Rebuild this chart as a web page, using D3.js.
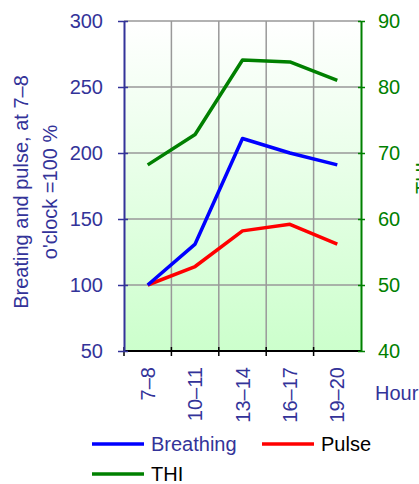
<!DOCTYPE html>
<html lang="en">
<head>
<meta charset="UTF-8">
<title>Breathing, pulse and THI</title>
<script src="https://d3js.org/d3.v7.min.js"></script>
<style>
  body { margin: 0; background: #fff; }
  text { font-family: "Liberation Sans", Arial, sans-serif; }
</style>
</head>
<body>
<svg id="chart" width="419" height="484"></svg>
<script>
// data
var hours = ["7–8", "10–11", "13–14", "16–17", "19–20"];
var breathing = [100, 131, 211, 200, 191];
var pulse = [100, 114, 141, 146, 131];
var thi = [68.2, 72.8, 84.1, 83.8, 81];
var leftTicks = [50, 100, 150, 200, 250, 300];
var rightTicks = [40, 50, 60, 70, 80, 90];

var navy = "#333399", green = "#008000";

var plot = {left: 124, right: 361, top: 21, bottom: 351};

var svg = d3.select("#chart");

var x = d3.scaleBand().domain(hours).range([plot.left, plot.right]);
var y = d3.scaleLinear().domain([50, 300]).range([plot.bottom, plot.top]);
var y2 = d3.scaleLinear().domain([40, 90]).range([plot.bottom, plot.top]);

// background gradient
var grad = svg.append("defs").append("linearGradient")
    .attr("id", "bg").attr("x1", 0).attr("y1", 0).attr("x2", 0).attr("y2", 1);
grad.append("stop").attr("offset", "0%").attr("stop-color", "#ffffff");
grad.append("stop").attr("offset", "100%").attr("stop-color", "#ccffcc");

svg.append("rect")
    .attr("x", plot.left).attr("y", plot.top)
    .attr("width", plot.right - plot.left).attr("height", plot.bottom - plot.top)
    .attr("fill", "url(#bg)");

// grid
svg.append("g").selectAll("line")
  .data(leftTicks.slice(1))
  .join("line")
    .attr("x1", plot.left).attr("x2", plot.right)
    .attr("y1", d => y(d)).attr("y2", d => y(d))
    .attr("stroke", "#999").attr("stroke-width", 1.5);

svg.append("g").selectAll("line")
  .data(hours.slice(1))
  .join("line")
    .attr("x1", d => x(d)).attr("x2", d => x(d))
    .attr("y1", plot.top).attr("y2", plot.bottom)
    .attr("stroke", "#999").attr("stroke-width", 1.5);

// bottom axis (ticks at category boundaries)
var bottom = svg.append("g");
bottom.append("line")
    .attr("x1", plot.left).attr("x2", plot.right)
    .attr("y1", plot.bottom).attr("y2", plot.bottom)
    .attr("stroke", "#000").attr("stroke-width", 2);
bottom.selectAll("line.tk")
  .data(hours)
  .join("line")
    .attr("class", "tk")
    .attr("x1", d => x(d)).attr("x2", d => x(d))
    .attr("y1", plot.bottom - 4).attr("y2", plot.bottom + 5)
    .attr("stroke", "#000").attr("stroke-width", 1.5);
bottom.selectAll("text")
  .data(hours)
  .join("text")
    .attr("transform", d => "translate(" + (x(d) + x.bandwidth() / 2) + "," + 367 + ") rotate(-90)")
    .attr("text-anchor", "end")
    .attr("dy", "0.35em")
    .attr("fill", navy)
    .style("font-size", "20px")
    .text(d => d);

svg.append("text")
    .attr("x", 375).attr("y", 400)
    .attr("fill", navy)
    .style("font-size", "20px")
    .text("Hour");

// left axis
var leftAxis = svg.append("g")
    .attr("transform", "translate(" + plot.left + ",0)")
    .call(d3.axisLeft(y).tickValues(leftTicks).tickSizeOuter(0).tickPadding(15));
leftAxis.select(".domain").attr("stroke", navy).attr("stroke-width", 2);
leftAxis.selectAll(".tick line").attr("x1", 4).attr("x2", -6).attr("stroke", navy).attr("stroke-width", 1.5);
leftAxis.selectAll(".tick text").attr("fill", navy).style("font-size", "20px")
    .style("font-family", "'Liberation Sans', Arial, sans-serif");

// right axis
var rightAxis = svg.append("g")
    .attr("transform", "translate(" + plot.right + ",0)")
    .call(d3.axisRight(y2).tickValues(rightTicks).tickSizeOuter(0).tickPadding(11));
rightAxis.select(".domain").attr("stroke", green).attr("stroke-width", 2);
rightAxis.selectAll(".tick line").attr("x1", -3).attr("x2", 4).attr("stroke", green).attr("stroke-width", 1.5);
rightAxis.selectAll(".tick text").attr("fill", green).style("font-size", "20px")
    .style("font-family", "'Liberation Sans', Arial, sans-serif");

// axis titles
var title = svg.append("text")
    .attr("transform", "translate(0,192) rotate(-90)")
    .attr("text-anchor", "middle")
    .attr("fill", navy)
    .style("font-size", "20px");
title.append("tspan").attr("x", 0).attr("y", 28).text("Breating and pulse, at 7–8");
title.append("tspan").attr("x", 0).attr("y", 57).text("o'clock =100 %");

// right title runs off the edge, as in the original
svg.append("text")
    .attr("transform", "translate(415,178) rotate(-90)")
    .attr("text-anchor", "middle")
    .attr("dy", "0.75em")
    .attr("fill", green)
    .style("font-size", "20px")
    .text("THI");

// lines
var cx = d => x(d) + x.bandwidth() / 2;
function drawLine(values, scale, color) {
  var line = d3.line()
      .x((d, i) => cx(hours[i]))
      .y(d => scale(d));
  svg.append("path")
      .datum(values)
      .attr("d", line)
      .attr("fill", "none")
      .attr("stroke", color)
      .attr("stroke-width", 3.5)
      .attr("stroke-linejoin", "round");
}
drawLine(thi, y2, green);
drawLine(pulse, y, "#ff0000");
drawLine(breathing, y, "#0000ff");

// legend
var legend = [
  {name: "Breathing", color: "#0000ff", text: navy, x: 92, y: 444},
  {name: "Pulse", color: "#ff0000", text: "#000", x: 262, y: 444},
  {name: "THI", color: green, text: "#000", x: 92, y: 474}
];
var lg = svg.append("g").selectAll("g")
  .data(legend)
  .join("g")
    .attr("transform", d => "translate(" + d.x + "," + d.y + ")");
lg.append("line")
    .attr("x1", 0).attr("x2", 52)
    .attr("stroke", d => d.color).attr("stroke-width", 3.5);
lg.append("text")
    .attr("x", 59).attr("y", 7)
    .attr("fill", d => d.text)
    .style("font-size", "20px")
    .text(d => d.name);
</script>
</body>
</html>
